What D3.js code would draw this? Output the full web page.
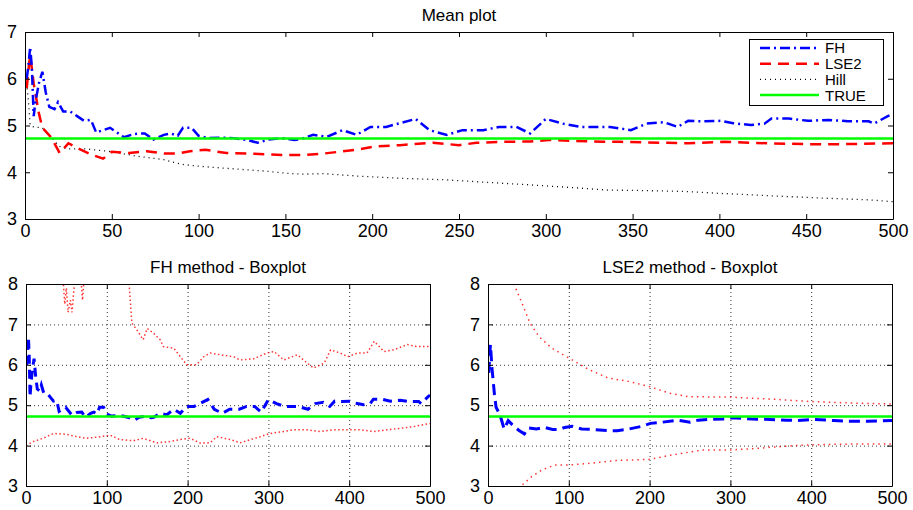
<!DOCTYPE html>
<html>
<head>
<meta charset="utf-8">
<script src="https://cdn.jsdelivr.net/npm/d3@7/dist/d3.min.js"></script>
<style>
  body { margin: 0; background: #fff; }
  svg text { font-family: "Liberation Sans", Arial, Helvetica, sans-serif; fill: #000; }
</style>
</head>
<body>
<svg id="chart" width="913" height="510"></svg>
<script>
// true value of the parameter
var trueValue = 4.72;

// Mean plot: FH estimator (sample size k, mean)
var fhK = [1,2,3,4,5,6,8,10,12,14,17,19,22,26,30,34,38,41,45,49,53,57,63,69,74,80,84,88,91,96,100,106,113,120,128,134,140,148,155,158,166,174,183,191,199,208,218,225,233,243,252,264,273,283,291,300,310,320,329,337,349,358,368,376,382,391,401,408,418,426,430,440,451,463,474,486,489,497,500];
var fhMean = [6.0,6.3,6.68,6.2,5.2,5.5,5.9,6.15,5.7,5.4,5.35,5.5,5.3,5.3,5.2,5.1,5.12,4.85,4.9,4.95,4.85,4.75,4.82,4.83,4.7,4.8,4.83,4.78,4.95,4.95,4.78,4.73,4.74,4.73,4.69,4.63,4.7,4.73,4.69,4.7,4.8,4.76,4.9,4.8,4.97,4.97,5.07,5.14,4.9,4.8,4.9,4.9,4.97,4.97,4.83,5.14,5.04,4.97,4.97,4.97,4.9,5.04,5.07,4.97,5.1,5.09,5.1,5.05,5.01,5.04,5.15,5.15,5.1,5.12,5.09,5.09,5.04,5.2,5.25];

// LSE2 estimator mean
var lseK = [1,2,3,5,8,10,15,20,25,30,38,45,50,60,70,80,88,95,104,116,130,148,160,172,191,201,216,235,250,260,275,291,302,316,333,343,370,382,403,428,451,470,500];
var lseMean = [5.8,6.2,6.5,5.9,5.26,4.95,4.75,4.41,4.62,4.52,4.38,4.29,4.44,4.41,4.45,4.4,4.4,4.45,4.48,4.41,4.4,4.37,4.37,4.4,4.48,4.55,4.58,4.63,4.58,4.63,4.65,4.66,4.69,4.67,4.65,4.65,4.63,4.62,4.65,4.62,4.6,4.6,4.62];

// Hill estimator mean
var hillK = [1,2,3,5,10,15,20,25,35,50,65,80,90,100,110,125,140,150,160,172,191,216,241,268,291,316,335,354,380,399,428,457,486,500];
var hillMean = [5.9,5.5,5.0,4.97,4.95,4.75,4.55,4.5,4.5,4.44,4.34,4.27,4.17,4.13,4.1,4.06,4.02,3.98,3.96,3.97,3.92,3.87,3.84,3.78,3.73,3.67,3.62,3.61,3.59,3.55,3.5,3.45,3.41,3.37];

// FH boxplot bounds
var fhUpK = [0,20,40,46,48,50,52,55,57,59,61,65,68,70,72,76,100,125,128,131,137,145,150,158,166,170,183,191,199,211,220,228,240,257,265,282,298,307,319,336,348,356,369,377,389,398,410,422,431,443,455,472,484,500];
var fhUp = [10,9.5,8.8,8.1,7.5,7.9,7.3,7.6,7.3,7.8,8.2,8.6,8.1,7.6,8.2,9,9.5,8.5,7.9,7.03,6.87,6.62,6.9,6.78,6.62,6.45,6.41,6.2,6.0,6.0,6.2,6.29,6.25,6.2,6.12,6.15,6.29,6.33,6.12,6.25,6.04,5.92,6.04,6.37,6.29,6.2,6.29,6.29,6.58,6.33,6.37,6.5,6.45,6.45];
var fhLoK = [0,9,21,34,50,63,75,92,104,116,133,145,162,178,191,203,216,228,236,253,265,278,290,302,319,331,348,364,381,397,414,431,447,464,480,500];
var fhLo = [4.0,4.1,4.18,4.3,4.28,4.22,4.18,4.22,4.26,4.15,4.12,4.18,4.07,4.1,4.15,4.18,4.06,4.07,4.22,4.15,4.07,4.15,4.22,4.3,4.35,4.39,4.39,4.35,4.39,4.39,4.39,4.35,4.39,4.43,4.47,4.55];

// LSE2 boxplot bounds
var lseUpK = [10,25,32,42,52,63,79,100,125,149,174,200,224,248,300,351,400,455,500];
var lseUp = [10,8.5,8.0,7.53,7.03,6.7,6.41,6.17,5.88,5.67,5.59,5.46,5.3,5.21,5.2,5.15,5.09,5.05,5.03];
var lseLoK = [10,30,42,54,67,83,100,125,158,200,228,265,300,331,372,400,455,500];
var lseLo = [2.0,2.7,3.02,3.23,3.4,3.52,3.52,3.56,3.63,3.66,3.77,3.89,3.89,3.93,3.99,4.02,4.04,4.04];

var legendNames = ['FH', 'LSE2', 'Hill', 'TRUE'];

function zip(ks, vs) {
    return ks.map(function(k, i) { return [k, vs[i]]; });
}

var svg = d3.select('#chart');
var clipId = 0;

function drawPanel(p) {
    var x = d3.scaleLinear().domain([0, 500]).range([p.left, p.right]);
    var y = d3.scaleLinear().domain(p.yDomain).range([p.bottom, p.top]);
    var g = svg.append('g');

    // clip
    clipId++;
    g.append('clipPath').attr('id', 'clip' + clipId)
        .append('rect')
        .attr('x', p.left).attr('y', p.top)
        .attr('width', p.right - p.left).attr('height', p.bottom - p.top);

    // grid
    if (p.grid) {
        g.append('g').selectAll('line').data(p.xTicks.slice(1, -1)).enter().append('line')
            .attr('x1', function(d) { return x(d) + 0.5; })
            .attr('x2', function(d) { return x(d) + 0.5; })
            .attr('y1', p.top).attr('y2', p.bottom)
            .attr('stroke', '#000').attr('stroke-width', 0.8)
            .attr('stroke-dasharray', '1,3');
        g.append('g').selectAll('line').data(p.yTicks.slice(1, -1)).enter().append('line')
            .attr('y1', function(d) { return y(d) + 0.5; })
            .attr('y2', function(d) { return y(d) + 0.5; })
            .attr('x1', p.left).attr('x2', p.right)
            .attr('stroke', '#000').attr('stroke-width', 0.8)
            .attr('stroke-dasharray', '1,3');
    }

    // series
    var line = d3.line()
        .x(function(d) { return x(d[0]); })
        .y(function(d) { return y(d[1]); });
    var series = g.append('g').attr('clip-path', 'url(#clip' + clipId + ')');
    p.series.forEach(function(s) {
        series.append('path')
            .datum(s.data)
            .attr('d', line)
            .attr('fill', 'none')
            .attr('stroke', s.color)
            .attr('stroke-width', s.width)
            .attr('stroke-dasharray', s.dash)
            .attr('stroke-opacity', s.opacity || 1);
    });

    // axes, ticks pointing inward on all sides
    var fmt = d3.format('d');
    g.append('g').attr('transform', 'translate(0,' + p.bottom + ')')
        .call(d3.axisBottom(x).tickValues(p.xTicks).tickFormat(fmt).tickSizeInner(-5).tickSizeOuter(0).tickPadding(5));
    g.append('g').attr('transform', 'translate(' + p.left + ',0)')
        .call(d3.axisLeft(y).tickValues(p.yTicks).tickFormat(fmt).tickSizeInner(-5).tickSizeOuter(0).tickPadding(8));
    g.append('g').attr('transform', 'translate(0,' + p.top + ')')
        .call(d3.axisTop(x).tickValues(p.xTicks).tickSizeInner(-5).tickSizeOuter(0).tickFormat(''));
    g.append('g').attr('transform', 'translate(' + p.right + ',0)')
        .call(d3.axisRight(y).tickValues(p.yTicks).tickSizeInner(-5).tickSizeOuter(0).tickFormat(''));
    g.selectAll('.domain, .tick line').attr('stroke', '#000').attr('stroke-width', 1);
    g.selectAll('.tick text')
        .attr('font-size', 18)
        .attr('font-family', '"Liberation Sans", Arial, Helvetica, sans-serif')
        .attr('fill', '#000');

    // title
    g.append('text')
        .attr('x', (p.left + p.right) / 2)
        .attr('y', p.top - 11)
        .attr('text-anchor', 'middle')
        .attr('font-size', 17)
        .text(p.title);

    return { g: g, x: x, y: y };
}

drawPanel({
    left: 25, right: 893, top: 32, bottom: 219,
    yDomain: [3, 7],
    xTicks: d3.range(0, 501, 50),
    yTicks: [3, 4, 5, 6, 7],
    grid: false,
    title: 'Mean plot',
    series: [
        { data: zip(hillK, hillMean), color: '#000', width: 1.3, dash: '1,4' },
        { data: zip(lseK, lseMean), color: '#ff0000', width: 2.5, dash: '11,7' },
        { data: zip(fhK, fhMean), color: '#0000ff', width: 2.5, dash: '10,4,2,4' },
        { data: [[0, trueValue], [500, trueValue]], color: '#00ff00', width: 2.5, dash: null }
    ]
});

drawPanel({
    left: 26, right: 430, top: 284, bottom: 486,
    yDomain: [3, 8],
    xTicks: [0, 100, 200, 300, 400, 500],
    yTicks: [3, 4, 5, 6, 7, 8],
    grid: true,
    title: 'FH method - Boxplot',
    series: [
        { data: zip(fhUpK, fhUp), color: '#ff0000', width: 1.5, dash: '1.5,2.5', opacity: 0.8 },
        { data: zip(fhLoK, fhLo), color: '#ff0000', width: 1.5, dash: '1.5,2.5', opacity: 0.8 },
        { data: zip(fhK, fhMean), color: '#0000ff', width: 3, dash: '9,6' },
        { data: [[0, trueValue], [500, trueValue]], color: '#00ff00', width: 2.5, dash: null }
    ]
});

drawPanel({
    left: 488, right: 892, top: 284, bottom: 486,
    yDomain: [3, 8],
    xTicks: [0, 100, 200, 300, 400, 500],
    yTicks: [3, 4, 5, 6, 7, 8],
    grid: true,
    title: 'LSE2 method - Boxplot',
    series: [
        { data: zip(lseUpK, lseUp), color: '#ff0000', width: 1.5, dash: '1.5,4', opacity: 0.8 },
        { data: zip(lseLoK, lseLo), color: '#ff0000', width: 1.5, dash: '1.5,4', opacity: 0.8 },
        { data: zip(lseK, lseMean), color: '#0000ff', width: 3, dash: '11,6' },
        { data: [[0, trueValue], [500, trueValue]], color: '#00ff00', width: 2.5, dash: null }
    ]
});

// legend of the mean plot
var legendStyles = [
    { color: '#0000ff', width: 2.5, dash: '10,4,2,4' },
    { color: '#ff0000', width: 2.5, dash: '11,7' },
    { color: '#000', width: 1.3, dash: '1,4' },
    { color: '#00ff00', width: 2.5, dash: null }
];
var legend = svg.append('g');
legend.append('rect')
    .attr('x', 749.5).attr('y', 39.5)
    .attr('width', 134).attr('height', 66)
    .attr('fill', '#fff').attr('stroke', '#000').attr('stroke-width', 1);
var entry = legend.selectAll('.entry').data(legendNames).enter().append('g')
    .attr('class', 'entry')
    .attr('transform', function(d, i) { return 'translate(0,' + (48 + i * 15.7) + ')'; });
entry.append('line')
    .attr('x1', 760).attr('x2', 819)
    .attr('stroke', function(d, i) { return legendStyles[i].color; })
    .attr('stroke-width', function(d, i) { return legendStyles[i].width; })
    .attr('stroke-dasharray', function(d, i) { return legendStyles[i].dash; });
entry.append('text')
    .attr('x', 825).attr('dy', '0.36em')
    .attr('font-size', 15)
    .text(function(d) { return d; });
</script>
</body>
</html>
